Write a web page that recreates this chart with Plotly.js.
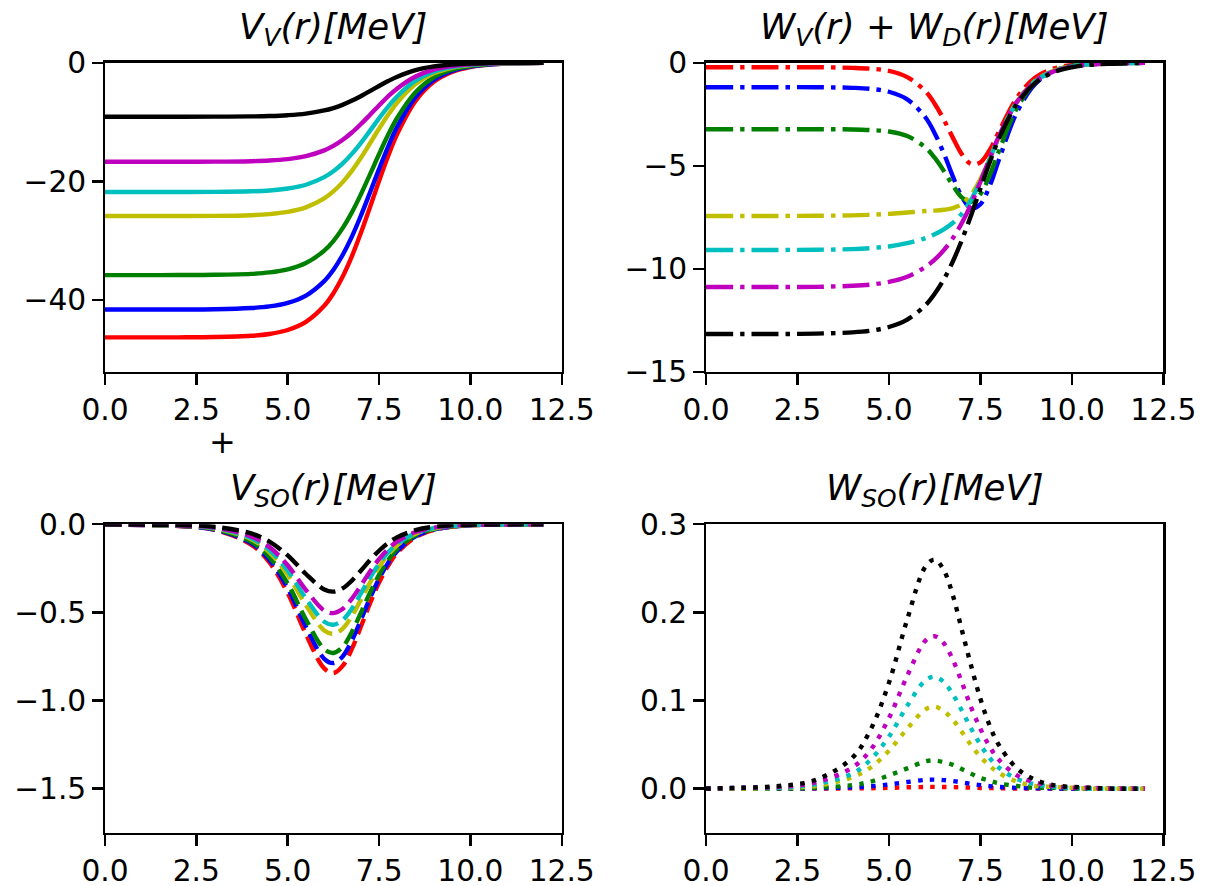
<!DOCTYPE html>
<html>
<head>
<meta charset="utf-8">
<script src="https://cdn.plot.ly/plotly-3.0.1.min.js"></script>
<style>
html,body{margin:0;padding:0;background:#fff;}
#chart{width:1213px;height:886px;}
</style>
</head>
<body>
<div id="chart"></div>
<script>
// radius grid (fm)
const r = [0,1,2,3,4,4.5,5,5.5,6,6.25,6.5,6.75,7,7.25,7.5,7.75,8,8.5,9,9.5,10,10.5,11,12];

// Panel 1: V_V(r) [MeV]
const vvRed     = [-46.30,-46.30,-46.29,-46.24,-46.03,-45.72,-45.05,-43.68,-40.98,-38.87,-36.13,-32.73,-28.76,-24.40,-19.95,-15.73,-12.00,-6.44,-3.21,-1.54,-0.72,-0.34,-0.16,-0.03];
const vvBlue    = [-41.60,-41.60,-41.59,-41.55,-41.35,-41.08,-40.48,-39.25,-36.82,-34.93,-32.46,-29.41,-25.84,-21.92,-17.93,-14.13,-10.78,-5.78,-2.89,-1.39,-0.65,-0.30,-0.14,-0.03];
const vvGreen   = [-35.80,-35.80,-35.79,-35.75,-35.59,-35.35,-34.83,-33.77,-31.68,-30.06,-27.93,-25.31,-22.24,-18.87,-15.43,-12.16,-9.28,-4.98,-2.48,-1.19,-0.56,-0.26,-0.12,-0.03];
const vvYellow  = [-25.85,-25.85,-25.84,-25.82,-25.70,-25.52,-25.15,-24.39,-22.88,-21.70,-20.17,-18.28,-16.06,-13.62,-11.14,-8.78,-6.70,-3.59,-1.79,-0.86,-0.40,-0.19,-0.09,-0.02];
const vvCyan    = [-21.80,-21.80,-21.79,-21.77,-21.67,-21.53,-21.21,-20.57,-19.29,-18.30,-17.01,-15.41,-13.54,-11.49,-9.39,-7.41,-5.65,-3.03,-1.51,-0.73,-0.34,-0.16,-0.07,-0.02];
const vvMagenta = [-16.70,-16.70,-16.69,-16.68,-16.60,-16.49,-16.25,-15.75,-14.78,-14.02,-13.03,-11.81,-10.37,-8.80,-7.20,-5.67,-4.33,-2.32,-1.16,-0.56,-0.26,-0.12,-0.06,-0.01];
const vvBlack   = [-9.10,-9.10,-9.10,-9.09,-9.05,-8.99,-8.85,-8.58,-8.05,-7.64,-7.10,-6.43,-5.65,-4.80,-3.92,-3.09,-2.36,-1.26,-0.63,-0.30,-0.14,-0.07,-0.03,-0.01];

// Panel 2: W_V(r) + W_D(r) [MeV]
const wRed     = [-0.22,-0.22,-0.22,-0.22,-0.25,-0.29,-0.40,-0.70,-1.39,-1.99,-2.76,-3.65,-4.46,-4.92,-4.84,-4.25,-3.37,-1.70,-0.72,-0.29,-0.11,-0.04,-0.02,0.00];
const wBlue    = [-1.19,-1.19,-1.19,-1.19,-1.22,-1.27,-1.41,-1.78,-2.66,-3.42,-4.40,-5.53,-6.53,-7.07,-6.87,-6.00,-4.75,-2.40,-1.03,-0.41,-0.16,-0.06,-0.02,0.00];
const wGreen   = [-3.23,-3.23,-3.23,-3.23,-3.24,-3.27,-3.34,-3.56,-4.12,-4.61,-5.25,-5.96,-6.55,-6.75,-6.38,-5.49,-4.32,-2.20,-0.97,-0.40,-0.16,-0.07,-0.03,0.00];
const wYellow  = [-7.44,-7.44,-7.44,-7.43,-7.41,-7.38,-7.34,-7.27,-7.20,-7.18,-7.14,-7.06,-6.85,-6.40,-5.65,-4.68,-3.64,-1.89,-0.88,-0.39,-0.17,-0.08,-0.03,-0.01];
const wCyan    = [-9.09,-9.09,-9.09,-9.08,-9.05,-9.00,-8.92,-8.76,-8.51,-8.33,-8.09,-7.77,-7.31,-6.64,-5.75,-4.70,-3.63,-1.91,-0.90,-0.41,-0.18,-0.08,-0.04,-0.01];
const wMagenta = [-10.89,-10.89,-10.89,-10.88,-10.83,-10.77,-10.64,-10.39,-9.91,-9.56,-9.10,-8.51,-7.76,-6.85,-5.79,-4.66,-3.59,-1.90,-0.92,-0.43,-0.19,-0.09,-0.04,-0.01];
const wBlack   = [-13.17,-13.17,-13.17,-13.15,-13.09,-13.01,-12.83,-12.47,-11.77,-11.22,-10.52,-9.64,-8.58,-7.39,-6.12,-4.86,-3.72,-1.99,-0.98,-0.46,-0.22,-0.10,-0.05,-0.01];

// Panel 3: V_SO(r) [MeV]
const vsoRed     = [0,-0.004,-0.010,-0.032,-0.115,-0.216,-0.389,-0.624,-0.818,-0.844,-0.805,-0.710,-0.583,-0.450,-0.331,-0.235,-0.162,-0.073,-0.032,-0.014,-0.006,-0.003,-0.001,0];
const vsoBlue    = [0,-0.004,-0.009,-0.030,-0.107,-0.202,-0.362,-0.582,-0.763,-0.787,-0.751,-0.662,-0.544,-0.420,-0.309,-0.219,-0.151,-0.068,-0.030,-0.013,-0.005,-0.002,-0.001,0];
const vsoGreen   = [0,-0.003,-0.008,-0.027,-0.099,-0.187,-0.336,-0.540,-0.708,-0.730,-0.697,-0.614,-0.504,-0.390,-0.287,-0.203,-0.140,-0.063,-0.028,-0.012,-0.005,-0.002,-0.001,0];
const vsoYellow  = [0,-0.003,-0.007,-0.023,-0.085,-0.159,-0.286,-0.459,-0.602,-0.621,-0.593,-0.523,-0.429,-0.332,-0.244,-0.173,-0.119,-0.054,-0.024,-0.010,-0.004,-0.002,-0.001,0];
const vsoCyan    = [0,-0.003,-0.006,-0.021,-0.078,-0.146,-0.263,-0.421,-0.553,-0.570,-0.544,-0.480,-0.394,-0.304,-0.224,-0.159,-0.110,-0.050,-0.022,-0.009,-0.004,-0.002,-0.001,0];
const vsoMagenta = [0,-0.002,-0.006,-0.019,-0.069,-0.129,-0.232,-0.373,-0.489,-0.504,-0.481,-0.424,-0.349,-0.269,-0.198,-0.140,-0.097,-0.044,-0.019,-0.008,-0.003,-0.002,-0.001,0];
const vsoBlack   = [0,-0.002,-0.004,-0.014,-0.052,-0.098,-0.176,-0.282,-0.370,-0.382,-0.364,-0.321,-0.264,-0.204,-0.150,-0.106,-0.073,-0.033,-0.014,-0.006,-0.003,-0.001,-0.001,0];

// Panel 4: W_SO(r) [MeV]
const wsoRed     = [0,0,0,0.0001,0.0003,0.0005,0.0009,0.0015,0.0019,0.0020,0.0019,0.0017,0.0014,0.0011,0.0008,0.0006,0.0004,0.0002,0,0,0,0,0,0];
const wsoBlue    = [0,0,0,0.0004,0.0014,0.0026,0.0047,0.0075,0.0099,0.0102,0.0097,0.0086,0.0070,0.0054,0.0040,0.0028,0.0020,0.0009,0.0004,0.0002,0,0,0,0];
const wsoGreen   = [0,0,0,0.001,0.004,0.008,0.015,0.023,0.031,0.032,0.030,0.027,0.022,0.017,0.012,0.009,0.006,0.003,0.001,0.001,0,0,0,0];
const wsoYellow  = [0,0,0.001,0.003,0.013,0.024,0.043,0.068,0.090,0.093,0.088,0.078,0.064,0.049,0.036,0.026,0.018,0.008,0.003,0.002,0.001,0,0,0];
const wsoCyan    = [0,0.001,0.001,0.005,0.017,0.033,0.059,0.094,0.123,0.127,0.121,0.107,0.088,0.068,0.050,0.035,0.024,0.011,0.005,0.002,0.001,0,0,0];
const wsoMagenta = [0,0.001,0.002,0.007,0.024,0.044,0.080,0.128,0.168,0.173,0.165,0.146,0.120,0.092,0.068,0.048,0.033,0.015,0.007,0.003,0.001,0.001,0,0];
const wsoBlack   = [0,0.001,0.003,0.010,0.035,0.067,0.120,0.192,0.252,0.260,0.248,0.219,0.179,0.139,0.102,0.072,0.050,0.023,0.010,0.004,0.002,0.001,0,0];

// ticks
const xTicks = [0,2.5,5,7.5,10,12.5];
const xTickText = ['0.0','2.5','5.0','7.5','10.0','12.5'];
const y1Ticks = [0,-20,-40];
const y1TickText = ['0','\u221220','\u221240'];
const y2Ticks = [0,-5,-10,-15];
const y2TickText = ['0','\u22125','\u221210','\u221215'];
const y3Ticks = [0,-0.5,-1,-1.5];
const y3TickText = ['0.0','\u22120.5','\u22121.0','\u22121.5'];
const y4Ticks = [0,0.1,0.2,0.3];
const y4TickText = ['0.0','0.1','0.2','0.3'];

const colors = ['#ff0000','#0000ff','#008000','#bfbf00','#00bfbf','#bf00bf','#000000'];
const panels = [
  {series:[vvRed,vvBlue,vvGreen,vvYellow,vvCyan,vvMagenta,vvBlack], dash:'solid', xa:'x', ya:'y'},
  {series:[wRed,wBlue,wGreen,wYellow,wCyan,wMagenta,wBlack], dash:'27px,7px,4.5px,7px', xa:'x2', ya:'y2'},
  {series:[vsoRed,vsoBlue,vsoGreen,vsoYellow,vsoCyan,vsoMagenta,vsoBlack], dash:'16.5px,7px', xa:'x3', ya:'y3'},
  {series:[wsoRed,wsoBlue,wsoGreen,wsoYellow,wsoCyan,wsoMagenta,wsoBlack], dash:'4.5px,7.3px', xa:'x4', ya:'y4'}
];

const traces = [];
panels.forEach(p => {
  p.series.forEach((s, i) => {
    traces.push({
      x: r, y: s, type: 'scatter', mode: 'lines',
      line: {color: colors[i], width: 4.4, dash: p.dash, shape: 'spline', smoothing: 1},
      xaxis: p.xa, yaxis: p.ya, hoverinfo: 'skip', showlegend: false
    });
  });
});

const FONT = 'DejaVu Sans';
function ax(extra) {
  return Object.assign({
    ticks: 'outside', ticklen: 10.4, tickwidth: 2.4, tickcolor: '#000',
    showline: true, mirror: true, linecolor: '#000', linewidth: 2.4,
    showgrid: false, zeroline: false, fixedrange: true,
    tickfont: {family: FONT, size: 29.7, color: '#000'}
  }, extra);
}

const xL = [105/1213, 561.7/1213];
const xR = [706/1213, 1163.3/1213];
const yT = [1-371.7/886, 1-62.7/886];
const yB = [1-832.7/886, 1-524.3/886];

function title(text, xd, topPx) {
  return {text: text, xref: 'paper', yref: 'paper', x: (xd[0]+xd[1])/2, y: 1-(topPx-34)/886,
          xanchor: 'center', yanchor: 'middle', showarrow: false,
          font: {family: FONT, size: 35.6, color: '#000'}};
}

const layout = {
  width: 1213, height: 886,
  margin: {l: 0, r: 0, t: 0, b: 0},
  paper_bgcolor: '#fff', plot_bgcolor: '#fff',
  showlegend: false,
  font: {family: FONT, color: '#000'},
  xaxis:  ax({domain: xL, anchor: 'y',  range: [0,12.5], tickvals: xTicks, ticktext: xTickText}),
  yaxis:  ax({domain: yT, anchor: 'x',  range: [-52.08,0], tickvals: y1Ticks, ticktext: y1TickText}),
  xaxis2: ax({domain: xR, anchor: 'y2', range: [0,12.5], tickvals: xTicks, ticktext: xTickText}),
  yaxis2: ax({domain: yT, anchor: 'x2', range: [-15,0], tickvals: y2Ticks, ticktext: y2TickText}),
  xaxis3: ax({domain: xL, anchor: 'y3', range: [0,12.5], tickvals: xTicks, ticktext: xTickText}),
  yaxis3: ax({domain: yB, anchor: 'x3', range: [-1.75,0], tickvals: y3Ticks, ticktext: y3TickText}),
  xaxis4: ax({domain: xR, anchor: 'y4', range: [0,12.5], tickvals: xTicks, ticktext: xTickText}),
  yaxis4: ax({domain: yB, anchor: 'x4', range: [-0.05,0.3], tickvals: y4Ticks, ticktext: y4TickText}),
  annotations: [
    title('<i>V<sub>V</sub>(r)[MeV]</i>', xL, 62.7),
    title('<i>W<sub>V</sub>(r)</i> + <i>W<sub>D</sub>(r)[MeV]</i>', xR, 62.7),
    title('<i>V<sub>SO</sub>(r)[MeV]</i>', xL, 524.3),
    title('<i>W<sub>SO</sub>(r)[MeV]</i>', xR, 524.3),
    {text: '+', xref: 'paper', yref: 'paper', x: 222/1213, y: 1-442/886, xanchor: 'center', yanchor: 'middle',
     showarrow: false, font: {family: FONT, size: 32, color: '#000'}}
  ]
};

Plotly.newPlot('chart', traces, layout, {staticPlot: true, displayModeBar: false});
</script>
</body>
</html>
